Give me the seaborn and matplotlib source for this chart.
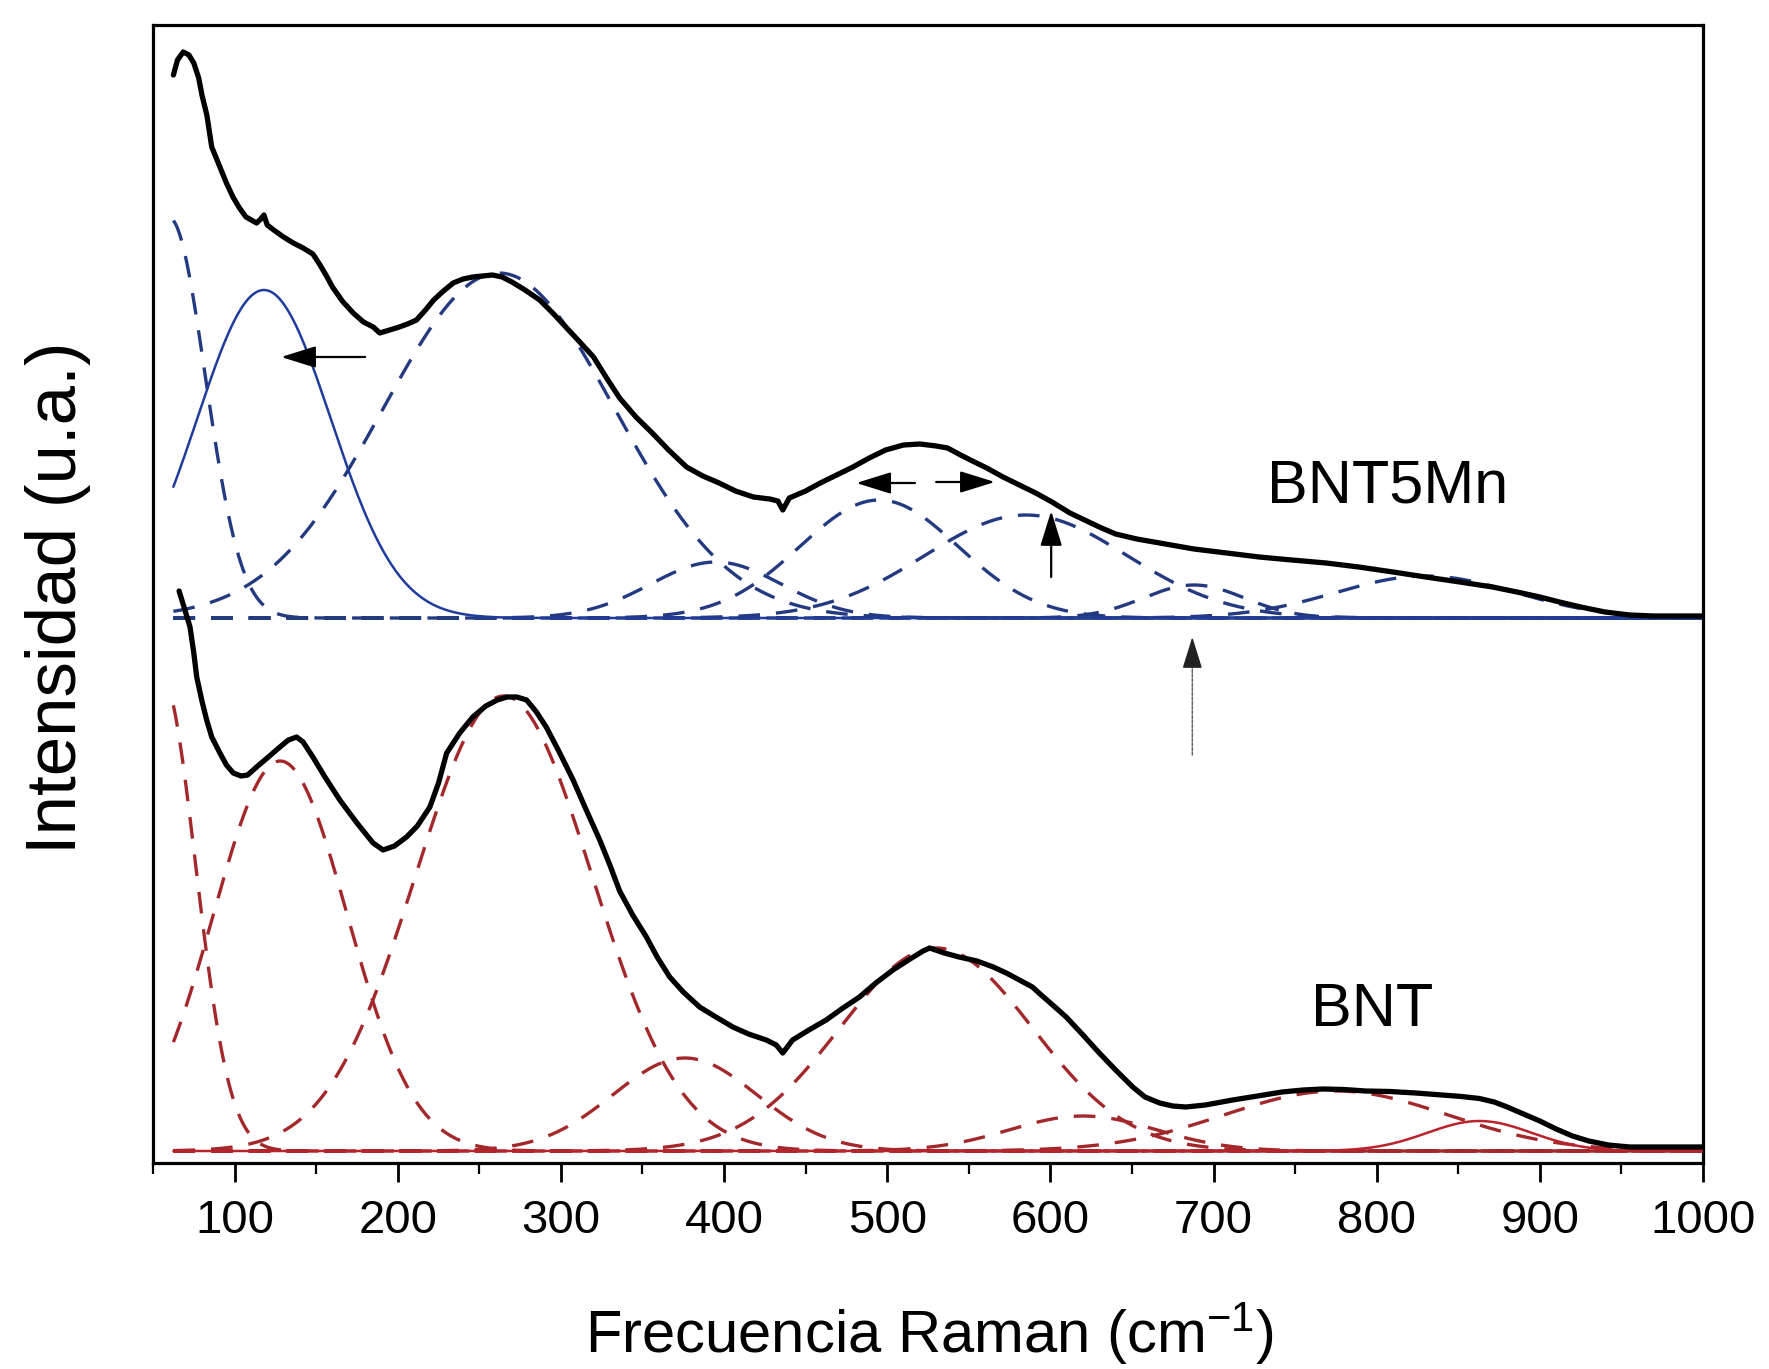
import numpy as np
import pandas as pd
import matplotlib
matplotlib.use("Agg")
import matplotlib.pyplot as plt
from matplotlib.ticker import MultipleLocator, FixedLocator
import seaborn as sns

# ---------------- measured spectra (Raman shift cm^-1, intensity a.u.) ----------------
bnt5mn_shift = [62.5, 65, 68.5, 72, 75, 78, 80, 83, 86, 91, 95, 99, 103, 107, 113.5, 116, 118,
                120, 124, 130, 136, 142, 148, 152, 156, 160, 166, 172.7, 179, 185, 189, 195, 201,
                206, 211.5, 217, 222, 228, 234, 240, 246, 252, 258, 264, 270, 278, 287, 295, 303,
                311, 320, 328, 336, 346, 356, 366, 377, 387, 397, 407, 418, 428, 433, 436, 440,
                450, 459, 469, 479, 489, 499, 510, 520, 530, 537, 545, 551, 561, 571, 581, 591,
                601, 612, 621, 630, 640, 653, 667, 688, 708, 728, 748, 769, 789, 810, 830, 851,
                871, 886, 900, 912, 925, 940, 955, 970, 985, 1000]
bnt5mn_intensity = [1088, 1103, 1111, 1108, 1100, 1085, 1068, 1048, 1016, 996, 980, 966, 955, 946,
                    940, 944, 948, 938, 933, 926, 920, 915, 909, 899, 888, 876, 862, 850, 841, 836,
                    830, 833, 836, 839, 843, 853, 863, 872, 880, 884, 886, 887, 888, 886, 881, 873,
                    863, 850, 836, 822, 806, 785, 765, 746, 730, 713, 696, 687, 680, 672, 666, 664,
                    662, 653, 665, 672, 680, 688, 696, 705, 713, 718, 719, 717, 715, 708, 703, 695,
                    686, 678, 670, 661, 650, 643, 636, 629, 624, 620, 614, 610, 606, 603, 600, 596,
                    591, 586, 581, 576, 571, 566, 561, 556, 551, 548, 547, 547, 547]

bnt_shift = [66, 69, 72.7, 75, 76.8, 80, 82.9, 86, 91, 95, 99.2, 104, 108, 113.5, 120, 127.8, 133,
             138, 142, 148, 155, 164.5, 175, 184.9, 191, 198, 205.4, 212, 219.7, 225, 230, 238, 246,
             254, 261, 267, 273, 279, 285, 291, 299, 307.5, 315, 323.8, 330, 336, 344, 352.4, 359,
             366.7, 375, 385, 395, 405.4, 415, 425.9, 432, 436, 442, 452, 462.6, 472, 483, 493,
             503.5, 514, 522, 526, 535, 544, 555, 565, 573, 581, 589, 593, 600, 609.7, 620, 630,
             640, 650.5, 658, 667, 675, 683, 695, 711.7, 727, 742, 755, 767, 780, 793, 808, 824,
             840, 852, 863, 872, 880, 890, 900, 910, 920, 930, 942, 955, 970, 985, 1000]
bnt_intensity = [572, 556, 536, 510, 486, 462, 443, 426, 410, 398, 390, 387, 388, 396, 405, 416, 423,
                 426, 421, 406, 387, 363, 340, 320, 313, 317, 326, 337, 356, 380, 410, 430, 446, 457,
                 463, 466, 466, 463, 451, 436, 411, 383, 355, 323, 298, 272, 248, 226, 206, 186, 171,
                 156, 146, 136, 129, 123, 118, 110, 123, 133, 143, 154, 166, 180, 193, 204, 212, 215,
                 210, 206, 202, 196, 190, 183, 176, 170, 160, 146, 128, 110, 93, 76, 66, 60, 57, 56,
                 58, 63, 67, 71, 73, 74, 73.5, 72, 71.5, 70, 68, 66.5, 64.5, 61, 56, 49, 42, 34, 27,
                 22, 18, 16, 16, 16, 16]

# ---------------- fitted Gaussian bands (centre, height, width) ----------------
bnt5mn_offset = 545
bnt5mn_band_centre = [60, 118, 262, 395, 495, 585, 688, 830]
bnt5mn_band_height = [400, 328, 345, 56, 118, 103, 33, 42]
bnt5mn_band_sigma = [22, 41, 71, 40, 48.5, 62, 31, 55]
bnt5mn_band_solid = [False, True, False, False, False, False, False, False]

bnt_offset = 12
bnt_band_centre = [55, 128, 265, 376, 530, 620, 775, 863]
bnt_band_height = [475, 390, 455, 93, 203, 35, 60, 30]
bnt_band_sigma = [21, 41, 54, 44, 59, 45, 68, 32]
bnt_band_solid = [False, False, False, False, False, False, False, True]

x_ticks = [100, 200, 300, 400, 500, 600, 700, 800, 900, 1000]
sample_labels = ["BNT5Mn", "BNT"]
label_pos_x = [806.7, 797.5]
label_pos_y = [661, 137]

# annotation arrows: (x_tail, y_tail, x_head, y_head)
arrows = [(180, 806, 128.5, 806),
          (517, 680, 481, 680),
          (530, 681, 566, 681),
          (600.5, 586, 600.5, 652)]
faint_arrow = (687, 408, 687, 526)

# ---------------- style ----------------
sns.set_theme(style="white")
plt.rcParams["font.family"] = ["Liberation Sans", "DejaVu Sans"]
plt.rcParams["mathtext.fontset"] = "custom"
plt.rcParams["mathtext.rm"] = "Liberation Sans"
plt.rcParams["mathtext.it"] = "Liberation Sans:italic"
plt.rcParams["mathtext.bf"] = "Liberation Sans:bold"
plt.rcParams["text.color"] = "black"
plt.rcParams["axes.labelcolor"] = "black"
plt.rcParams["xtick.color"] = "black"
plt.rcParams["xtick.labelcolor"] = "black"

W, H = 1769, 1369
fig = plt.figure(figsize=(W / 100, H / 100), dpi=100)
L, R, T, B = 153, 1703, 25, 1163
ax = fig.add_axes([L / W, 1 - B / H, (R - L) / W, (B - T) / H])

blue_dash = "#243a80"
blue_solid = "#1f3c9c"
red_dash = "#a3282b"
red_solid = "#b8232c"

grid = np.linspace(62.5, 1000, 1500)


def draw_bands(centres, heights, sigmas, solids, offset, c_dash, c_solid):
    for c, h, s, solid in zip(centres, heights, sigmas, solids):
        y = offset + h * np.exp(-((grid - c) ** 2) / (2 * s ** 2))
        df = pd.DataFrame({"shift": grid, "intensity": y})
        if solid:
            sns.lineplot(data=df, x="shift", y="intensity", ax=ax, color=c_solid,
                         lw=1.8, estimator=None, zorder=3)
        else:
            sns.lineplot(data=df, x="shift", y="intensity", ax=ax, color=c_dash,
                         lw=2.4, linestyle=(0, (6.5, 4.8)), estimator=None, zorder=2)


draw_bands(bnt5mn_band_centre, bnt5mn_band_height, bnt5mn_band_sigma, bnt5mn_band_solid,
           bnt5mn_offset, blue_dash, blue_solid)
draw_bands(bnt_band_centre, bnt_band_height, bnt_band_sigma, bnt_band_solid,
           bnt_offset, red_dash, red_solid)

for xs, ys in [(bnt5mn_shift, bnt5mn_intensity), (bnt_shift, bnt_intensity)]:
    df = pd.DataFrame({"shift": xs, "intensity": ys})
    sns.lineplot(data=df, x="shift", y="intensity", ax=ax, color="black", lw=3.8,
                 estimator=None, zorder=5)

for (x0, y0, x1, y1) in arrows:
    ax.annotate("", xy=(x1, y1), xytext=(x0, y0),
                arrowprops=dict(arrowstyle="-|>,head_length=0.9,head_width=0.28",
                                mutation_scale=24, lw=1.6, color="black",
                                shrinkA=0, shrinkB=0), zorder=6)
x0, y0, x1, y1 = faint_arrow
ax.annotate("", xy=(x1, y1 - 18), xytext=(x0, y0),
            arrowprops=dict(arrowstyle="-", lw=1.1, color="#666666",
                            linestyle=(0, (2, 1)), shrinkA=0, shrinkB=0), zorder=6)
ax.annotate("", xy=(x1, y1), xytext=(x1, y1 - 22),
            arrowprops=dict(arrowstyle="-|>,head_length=0.9,head_width=0.28",
                            mutation_scale=22, lw=1.1, color="#222222",
                            shrinkA=0, shrinkB=0), zorder=6)

for lab, tx, ty in zip(sample_labels, label_pos_x, label_pos_y):
    ax.text(tx, ty, lab, ha="center", va="baseline", fontsize=44, color="black", zorder=7)

ax.set_xlim(50, 1000)
ax.set_ylim(0, 1138)
ax.xaxis.set_major_locator(FixedLocator(x_ticks))
ax.xaxis.set_minor_locator(MultipleLocator(50))
ax.set_yticks([])
ax.tick_params(axis="x", which="major", direction="out", length=14, width=2.0,
               labelsize=34, pad=12, color="black", labelcolor="black", bottom=True, top=False)
ax.tick_params(axis="x", which="minor", direction="out", length=8, width=1.6,
               color="black", bottom=True, top=False)
for sp in ax.spines.values():
    sp.set_visible(True)
    sp.set_color("black")
    sp.set_linewidth(2.3)

ax.set_xlabel(r"Frecuencia Raman (cm$^{\mathregular{-1}}$)", fontsize=43, va="baseline",
              color="black")
ax.xaxis.set_label_coords(0.501, -0.167)
ax.set_ylabel("Intensidad (u.a.)", fontsize=51, color="black")
ax.yaxis.set_label_coords(-0.040, 0.497)

fig.savefig("out.png", dpi=100)
